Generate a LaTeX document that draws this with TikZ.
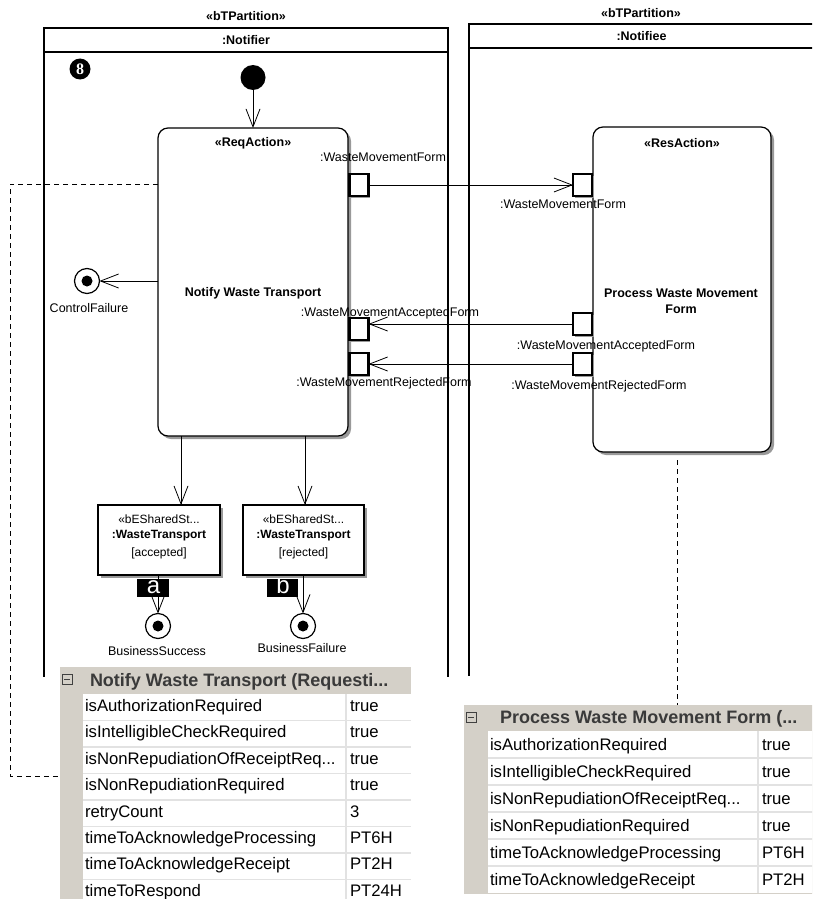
\documentclass[tikz,border=0pt]{standalone}
\usepackage{fontspec}
\setmainfont{Liberation Sans}
\newfontfamily\markfont{Liberation Serif}
\usetikzlibrary{arrows.meta,shadows,calc}
\definecolor{tabgray}{HTML}{D4D0C8}
\definecolor{sepgray}{HTML}{E2E2E2}
\definecolor{headtxt}{HTML}{3A3A3A}
\newcommand\trunc{...}
\begin{document}
\begin{tikzpicture}[x=1pt,y=-1pt,
  dfont/.style={font=\fontsize{12.5}{15}\selectfont},
  every node/.style={inner sep=0pt, outer sep=0pt, dfont},
  lanebox/.style={draw, line width=1.4pt, minimum height=24pt, anchor=north west,
    font=\bfseries\fontsize{12.5}{15}\selectfont},
  laneline/.style={line width=1.4pt},
  stereo/.style={font=\bfseries\fontsize{12.5}{15}\selectfont},
  shade/.style={drop shadow={shadow xshift=3pt, shadow yshift=-3pt, fill=black!40, opacity=1}},
  action/.style={draw, line width=1.2pt, rounded corners=10pt, fill=white, anchor=north west, shade},
  pin/.style={draw, line width=2.2pt, fill=white, minimum width=19pt, minimum height=22pt,
    drop shadow={shadow xshift=1.5pt, shadow yshift=-1.5pt, fill=black!40, opacity=1}},
  objbox/.style={draw, line width=1.2pt, fill=white, minimum width=122pt, minimum height=70pt, shade},
  arr/.style={line width=0.8pt, -{Straight Barb[length=18pt,width=14pt,line width=0.8pt]}},
  dsh/.style={line width=0.8pt, dash pattern=on 5pt off 4pt},
  initnode/.style={circle, fill=black, minimum size=25pt},
  final/.style={circle, draw, line width=1.2pt, fill=white, minimum size=25pt,
    path picture={\fill[black] (path picture bounding box.center) circle (5.5pt);}},
  lbl/.style={font=\fontsize{12.5}{15}\selectfont},
  small/.style={font=\fontsize{12}{15}\selectfont},
  tag/.style={fill=black, minimum height=18pt},
  tagtxt/.style={text=white, font=\fontsize{24}{24}\selectfont},
  nummark/.style={circle, fill=black, minimum size=21pt, text=white,
    font=\markfont\bfseries\fontsize{16}{16}\selectfont},
  tabbg/.style={fill=tabgray, anchor=north west},
  tabhead/.style={text=headtxt, font=\bfseries\fontsize{18}{18}\selectfont},
  tabtxt/.style={font=\fontsize{16.7}{18}\selectfont},
  cellsep/.style={draw=sepgray, line width=1.6pt},
  minusbox/.style={draw=black!75, line width=0.8pt, minimum size=10pt,
    path picture={\draw[black!75, line width=0.9pt]
      ([xshift=-3pt]path picture bounding box.center) -- ([xshift=3pt]path picture bounding box.center);}}
]
\useasboundingbox (0,0) rectangle (812,899);
\fill[white] (0,0) rectangle (812,899);
\clip (0,0) rectangle (812,899);

% ---------- partitions ----------
\node[stereo] (p1st) at (246,16) {«bTPartition»};
\node[lanebox, minimum width=404pt] (p1) at (44,28) {:Notifier};
\draw[laneline] (p1.south west) -- ++(0,625);
\draw[laneline] (p1.south east) -- ++(0,625);

\node[stereo] (p2st) at (641,13) {«bTPartition»};
\node[lanebox, minimum width=345pt] (p2) at (469,24) {:Notifiee};
\draw[laneline] (p2.south west) -- ++(0,628);

\node[nummark] (m8) at (80,69) {8};

% ---------- requesting action ----------
\node[initnode] (ini) at (253,77.5) {};
\node[action, minimum width=190pt, minimum height=308pt] (req) at (158,128) {};
\node[stereo] (reqs) at (253,143) {«ReqAction»};
\node[stereo] (reqn) at (253,293) {Notify Waste Transport};
\draw[arr] (ini) -- (req.north -| ini);

% ---------- responding action ----------
\node[action, minimum width=178pt, minimum height=325pt] (res) at (593,127) {};
\node[stereo] (ress) at (682,143) {«ResAction»};
\node[stereo, align=center, font=\bfseries\fontsize{12.5}{16}\selectfont] (resn) at (681,301)
  {Process Waste Movement\\Form};

% ---------- pins ----------
\node[pin] (qp1) at (359,185) {};
\node[pin] (qp2) at (359,329) {};
\node[pin] (qp3) at (359,364) {};
\node[pin] (rp1) at (582.5,185) {};
\node[pin] (rp2) at (582.5,324) {};
\node[pin] (rp3) at (582.5,364) {};

\node[lbl] (qp1l) at (383,157) {:WasteMovementForm};
\node[lbl] (qp2l) at (390,313) {:WasteMovementAcceptedForm};
\node[lbl] (qp3l) at (384,383) {:WasteMovementRejectedForm};
\node[lbl] (rp1l) at (563,204) {:WasteMovementForm};
\node[lbl] (rp2l) at (606,346) {:WasteMovementAcceptedForm};
\node[lbl] (rp3l) at (599,386) {:WasteMovementRejectedForm};

\draw[arr] (qp1.east) -- (rp1.west);
\draw[arr] (rp2.west) -- (rp2.west -| qp2.east);
\draw[arr] (rp3.west) -- (qp3.east);

% ---------- control failure ----------
\node[final] (cf) at (87,281) {};
\node[lbl] (cfl) at (89,308) {ControlFailure};
\draw[arr] (req.west |- cf) -- (cf);

% ---------- shared state objects ----------
\coordinate (xa) at (181,0);
\coordinate (xb) at (305,0);
\node[objbox] (s1) at (159,540) {};
\node[objbox, minimum width=121pt] (s2) at (303.5,540) {};
\node[small] (s1a) at (159,519) {«bESharedSt...};
\node[small, font=\bfseries\fontsize{12}{15}\selectfont] (s1b) at (159,536) {:WasteTransport};
\node[small] (s1c) at (159,553) {[accepted]};
\node[small] (s2a) at (303.5,519) {«bESharedSt...};
\node[small, font=\bfseries\fontsize{12}{15}\selectfont] (s2b) at (303.5,536) {:WasteTransport};
\node[small] (s2c) at (303.5,553) {[rejected]};
\draw[arr] (req.south -| xa) -- (s1.north -| xa);
\draw[arr] (req.south -| xb) -- (s2.north -| xb);

% ---------- business outcomes ----------
\node[final] (bs) at (158,626) {};
\node[final] (bf) at (303,626) {};
\node[lbl] (bsl) at (157,651) {BusinessSuccess};
\node[lbl] (bfl) at (302,648) {BusinessFailure};
\draw[arr] (s1.south -| bs) -- (bs);
\draw[arr] (s2.south -| bf) -- (bf);

\node[tag, minimum width=32pt] (ta) at (153,588) {};
\node[tag, minimum width=31pt] (tb) at (282.5,588) {};
\begin{scope}
  \clip (ta.south west) rectangle (ta.north east);
  \node[tagtxt, anchor=base] (tat) at (153.5,593) {a};
\end{scope}
\begin{scope}
  \clip (tb.south west) rectangle (tb.north east);
  \node[tagtxt, anchor=base] (tbt) at (283,593) {b};
\end{scope}

% ---------- property table: requesting action ----------
\node[tabbg, minimum width=351pt, minimum height=240pt] (t1) at (60,667) {};
\fill[white] (83,694) rectangle (411,907);
\foreach \i in {1,2,3,4,5,6,7,8} \draw[cellsep] (83,{694+26.5*\i}) -- (411,{694+26.5*\i});
\draw[cellsep] (346,694) -- (346,907);
\node[minusbox] (t1m) at (67,679) {};
\node[tabhead, anchor=base west] (t1h) at (90,686.5) {Notify Waste Transport (Requesti\trunc};
\foreach \nm/\vl [count=\i from 0] in {isAuthorizationRequired/true,
    isIntelligibleCheckRequired/true, isNonRepudiationOfReceiptReq\trunc/true,
    isNonRepudiationRequired/true, retryCount/3, timeToAcknowledgeProcessing/PT6H,
    timeToAcknowledgeReceipt/PT2H, timeToRespond/PT24H}{
  \node[tabtxt, anchor=base west] (t1n\i) at (85,{711.5+26.4*\i}) {\nm};
  \node[tabtxt, anchor=base west] (t1v\i) at (350,{711.5+26.4*\i}) {\vl};
}

% ---------- property table: responding action ----------
\node[tabbg, minimum width=350pt, minimum height=189pt] (t2) at (464,705) {};
\fill[white] (488,731) rectangle (814,893);
\foreach \i in {1,2,3,4,5} \draw[cellsep] (488,{731+27*\i}) -- (814,{731+27*\i});
\draw[cellsep] (758,731) -- (758,893);
\node[minusbox] (t2m) at (471,717) {};
\node[tabhead, anchor=base west] (t2h) at (500,723.5) {Process Waste Movement Form (\trunc};
\foreach \nm/\vl [count=\i from 0] in {isAuthorizationRequired/true,
    isIntelligibleCheckRequired/true, isNonRepudiationOfReceiptReq\trunc/true,
    isNonRepudiationRequired/true, timeToAcknowledgeProcessing/PT6H,
    timeToAcknowledgeReceipt/PT2H}{
  \node[tabtxt, anchor=base west] (t2n\i) at (490,{750.5+27*\i}) {\nm};
  \node[tabtxt, anchor=base west] (t2v\i) at (762,{750.5+27*\i}) {\vl};
}

% ---------- note attachments ----------
\coordinate (dl1) at (10,184);
\coordinate (dl2) at (10,776);
\draw[dsh] (req.west |- dl1) -- (dl1) -- (dl2) -- (dl2 -| t1.west);
\coordinate (dr1) at (677,460);
\draw[dsh] (dr1) -- (dr1 |- t2.north);
\end{tikzpicture}
\end{document}
